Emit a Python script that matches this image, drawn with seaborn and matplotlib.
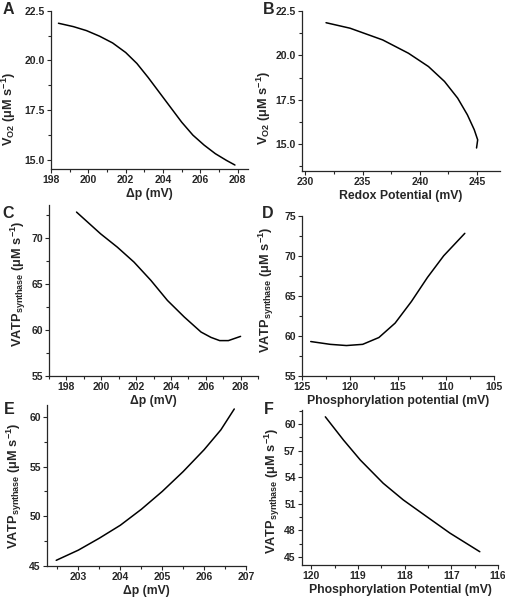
import numpy as np
import pandas as pd
import matplotlib
matplotlib.use("Agg")
import matplotlib.pyplot as plt
import seaborn as sns
from matplotlib.ticker import MultipleLocator, AutoMinorLocator

# A: delta p vs VO2
dp_a = [198.4, 199.2, 199.9, 200.6, 201.3, 202.0, 202.6, 203.2, 203.8, 204.4, 205.0,
        205.6, 206.2, 206.8, 207.4, 207.85]
vo2_a = [21.87, 21.7, 21.5, 21.22, 20.88, 20.4, 19.85, 19.15, 18.4, 17.65, 16.9,
         16.25, 15.75, 15.32, 14.98, 14.75]

# B: redox potential vs VO2 (curve bends back at the end)
redox_b = [231.8, 233.9, 236.75, 239.0, 240.75, 242.15, 243.3, 244.15, 244.75, 245.05, 244.95]
vo2_b = [21.84, 21.53, 20.87, 20.12, 19.37, 18.53, 17.59, 16.65, 15.81, 15.24, 14.78]

# C: delta p vs VATP synthase
dp_c = [198.58, 199.96, 200.92, 201.88, 202.85, 203.8, 204.77, 205.73, 206.3, 206.8, 207.3, 208.0]
vatp_c = [72.83, 70.47, 69.02, 67.39, 65.4, 63.22, 61.41, 59.78, 59.2, 58.85, 58.85, 59.31]

# D: phosphorylation potential vs VATP synthase
phos_d = [124.09, 122.06, 120.37, 118.68, 116.99, 115.3, 113.6, 111.93, 110.24, 108.04]
vatp_d = [59.3, 58.95, 58.8, 58.95, 59.8, 61.6, 64.3, 67.3, 70.0, 72.8]

# E: delta p vs VATP synthase
dp_e = [202.47, 203.0, 203.5, 204.0, 204.5, 205.0, 205.5, 206.0, 206.4, 206.72]
vatp_e = [45.57, 46.6, 47.8, 49.1, 50.7, 52.5, 54.5, 56.7, 58.7, 60.8]

# F: phosphorylation potential vs VATP synthase
phos_f = [119.7, 119.31, 118.95, 118.46, 118.03, 117.53, 117.03, 116.39]
vatp_f = [60.83, 58.2, 55.95, 53.33, 51.45, 49.57, 47.7, 45.6]

sns.set_style("ticks")
plt.rcParams['font.family'] = ['Liberation Sans', 'DejaVu Sans']
plt.rcParams['font.weight'] = 'bold'
plt.rcParams['mathtext.fontset'] = 'custom'
plt.rcParams['mathtext.rm'] = 'Liberation Sans:bold'
plt.rcParams['mathtext.it'] = 'Liberation Sans:bold'
plt.rcParams['mathtext.bf'] = 'Liberation Sans:bold'

W, H = 505, 598
fig = plt.figure(figsize=(W / 100, H / 100), dpi=100)


def box(l, r, t, b):
    return [l / W, 1 - b / H, (r - l) / W, (b - t) / H]


VO2 = r"V$_{\mathrm{O2}}$ ($\mathrm{\mu}$M s$^{\mathrm{-1}}$)"
VATP = r"VATP$_{\mathrm{synthase}}$ ($\mathrm{\mu}$M s$^{\mathrm{-1}}$)"

panels = [
    # letter, x, y, xlim, ylim, xmaj, ymaj, box, xlabel, ylabel, ylabel pos, letter pos, y format
    ("A", dp_a, vo2_a, (198, 208.55), (14.55, 22.5), 2, 2.5, box(51, 248, 10.7, 169),
     "Δp (mV)", VO2, (18, 109), (8, 10), "{:.1f}"),
    ("B", redox_b, vo2_b, (229.7, 247), (13.5, 22.5), 5, 2.5, box(302, 500, 11, 170.7),
     "Redox Potential (mV)", VO2, (273, 108), (269, 9), "{:.1f}"),
    ("C", dp_c, vatp_c, (197, 209), (55, 73.6), 2, 5, box(49, 258, 205, 376),
     "Δp (mV)", VATP, (28, 284), (8, 213), "{:.0f}"),
    ("D", phos_d, vatp_d, (125, 105), (55, 75), 5, 5, box(302, 494, 215.7, 376),
     "Phosphorylation potential (mV)", VATP, (276, 290), (268, 214), "{:.0f}"),
    ("E", dp_e, vatp_e, (202.25, 207), (45, 61.2), 1, 5, box(47, 246, 405, 566),
     "Δp (mV)", VATP, (24, 486), (9, 410), "{:.0f}"),
    ("F", phos_f, vatp_f, (120.2, 116), (44.1, 61.6), 1, 3, box(302, 498, 410, 565),
     "Phosphorylation Potential (mV)", VATP, (282, 491), (269, 410), "{:.0f}"),
]

for letter, xs, ys, xlim, ylim, xmaj, ymaj, pos, xlabel, ylabel, ylp, lpos, yfmt in panels:
    ax = fig.add_axes(pos)
    ax.patch.set_alpha(0)
    df = pd.DataFrame({"x": xs, "y": ys})
    sns.lineplot(data=df, x="x", y="y", sort=False, estimator=None,
                 color="black", linewidth=1.1, ax=ax)
    ax.set_xlim(*xlim)
    ax.set_ylim(*ylim)
    ax.xaxis.set_major_locator(MultipleLocator(xmaj))
    ax.yaxis.set_major_locator(MultipleLocator(ymaj))
    ax.xaxis.set_minor_locator(AutoMinorLocator(2))
    ax.yaxis.set_minor_locator(AutoMinorLocator(2))
    ax.yaxis.set_major_formatter(plt.FuncFormatter(lambda v, p, f=yfmt: f.format(v)))
    ax.xaxis.set_major_formatter(plt.FuncFormatter(lambda v, p: "{:.0f}".format(v)))
    ax.tick_params(which="major", length=3, width=0.8, labelsize=7.5, pad=1.5)
    ax.tick_params(which="minor", length=2, width=0.8)
    for lab in ax.get_xticklabels() + ax.get_yticklabels():
        lab.set_fontweight("bold")
    for s in ("left", "bottom"):
        ax.spines[s].set_linewidth(0.9)
    sns.despine(ax=ax)
    ax.set_xlabel(xlabel, fontsize=8.8, fontweight="bold", labelpad=2)
    ax.set_ylabel(ylabel, fontsize=9.2, fontweight="bold")
    ax.yaxis.set_label_coords(ylp[0] / W, 1 - ylp[1] / H, transform=fig.transFigure)
    fig.text(lpos[0] / W, 1 - lpos[1] / H, letter, fontsize=11.5, fontweight="bold",
             ha="center", va="center")

fig.savefig("out.png", dpi=100)
